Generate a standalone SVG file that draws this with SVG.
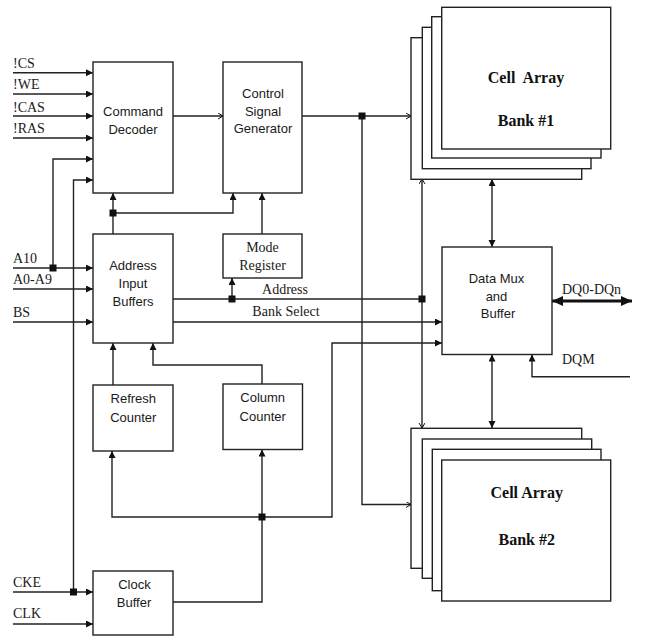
<svg xmlns="http://www.w3.org/2000/svg" width="658" height="642" viewBox="0 0 658 642">
<style>
.box{fill:#fff;stroke:#222;stroke-width:1.4}
.ln{fill:none;stroke:#222;stroke-width:1.4}
.bt{font-family:"Liberation Sans",Arial,sans-serif;font-size:13px;fill:#1a1a1a;text-anchor:middle}
.st{font-family:"Liberation Serif","Times New Roman",serif;font-size:14px;fill:#1a1a1a}
.ct{font-family:"Liberation Serif","Times New Roman",serif;font-size:16px;font-weight:bold;fill:#111;text-anchor:middle}
.jn{fill:#111}
</style>
<defs>
<marker id="fa" markerUnits="userSpaceOnUse" markerWidth="8" markerHeight="8" refX="7" refY="3.5" orient="auto-start-reverse"><path d="M0,0 L7,3.5 L0,7 z" fill="#111"/></marker>
<marker id="oa" markerUnits="userSpaceOnUse" markerWidth="8" markerHeight="8" refX="5" refY="3" orient="auto-start-reverse"><path d="M0,0 L5,3 L0,6" fill="none" stroke="#111" stroke-width="1"/></marker>
<marker id="ba" markerUnits="userSpaceOnUse" markerWidth="12" markerHeight="12" refX="11" refY="5" orient="auto-start-reverse"><path d="M0,0 L11,5 L0,10 z" fill="#111"/></marker>
</defs>

<g id="connectors">
<path class="ln" d="M13,72.7 H93" marker-end="url(#fa)"/>
<path class="ln" d="M13,94 H93" marker-end="url(#fa)"/>
<path class="ln" d="M13,116 H93" marker-end="url(#fa)"/>
<path class="ln" d="M13,138 H93" marker-end="url(#fa)"/>
<path class="ln" d="M53,268 V159 H93" marker-end="url(#fa)"/>
<path class="ln" d="M73.5,592 V180 H93" marker-end="url(#fa)"/>
<path class="ln" d="M173,116 H223" marker-end="url(#oa)"/>
<path class="ln" d="M302,116 H411" marker-end="url(#oa)"/>
<path class="ln" d="M362,116 V504.5 H411" marker-end="url(#oa)"/>
<path class="ln" d="M113,234 V193" marker-end="url(#fa)"/>
<path class="ln" d="M113,213 H233 V193" marker-end="url(#fa)"/>
<path class="ln" d="M262,234 V193" marker-end="url(#fa)"/>
<path class="ln" d="M13,268 H93" marker-end="url(#fa)"/>
<path class="ln" d="M13,289 H93" marker-end="url(#fa)"/>
<path class="ln" d="M13,322 H93" marker-end="url(#fa)"/>
<path class="ln" d="M173,299 H422"/>
<path class="ln" d="M232,299 V278" marker-end="url(#fa)"/>
<path class="ln" d="M422,299 V179" marker-end="url(#oa)"/>
<path class="ln" d="M422,299 V428" marker-end="url(#oa)"/>
<path class="ln" d="M173,322 H442" marker-end="url(#fa)"/>
<path class="ln" d="M173,602 H262 V517"/>
<path class="ln" d="M262,517 V449.5" marker-end="url(#fa)"/>
<path class="ln" d="M262,517 H112 V451" marker-end="url(#fa)"/>
<path class="ln" d="M262,517 H332 V343 H442" marker-end="url(#fa)"/>
<path class="ln" d="M113,385 V343" marker-end="url(#fa)"/>
<path class="ln" d="M262,384 V365 H153 V343" marker-end="url(#fa)"/>
<path class="ln" d="M492,179 V247" marker-start="url(#fa)" marker-end="url(#fa)"/>
<path class="ln" d="M492,354.5 V428" marker-start="url(#fa)" marker-end="url(#fa)"/>
<path class="ln" d="M630,376.7 H532 V354.5" marker-end="url(#fa)"/>
<path fill="none" stroke="#111" stroke-width="3" d="M552,301 H632" marker-start="url(#ba)" marker-end="url(#ba)"/>
<path class="ln" d="M13,592 H93" marker-end="url(#fa)"/>
<path class="ln" d="M13,624 H93" marker-end="url(#fa)"/>
<rect class="jn" x="49.5" y="264.5" width="7" height="7"/>
<rect class="jn" x="109.5" y="209.5" width="7" height="7"/>
<rect class="jn" x="358.5" y="112.5" width="7" height="7"/>
<rect class="jn" x="228.5" y="295.5" width="7" height="7"/>
<rect class="jn" x="418.5" y="295.5" width="7" height="7"/>
<rect class="jn" x="258.5" y="513.5" width="7" height="7"/>
<rect class="jn" x="70" y="588.5" width="7" height="7"/>
</g>

<g id="signal-labels">
<text class="st" x="13" y="68.3">!CS</text>
<text class="st" x="13" y="89.3">!WE</text>
<text class="st" x="13" y="111.7">!CAS</text>
<text class="st" x="13" y="133.3">!RAS</text>
<text class="st" x="13" y="262.7">A10</text>
<text class="st" x="13" y="284">A0-A9</text>
<text class="st" x="13" y="316.7">BS</text>
<text class="st" x="13" y="586.7">CKE</text>
<text class="st" x="13" y="618.3">CLK</text>
<text class="st" x="285" y="294" font-size="13" text-anchor="middle">Address</text>
<text class="st" x="286" y="316" font-size="13.5" text-anchor="middle">Bank Select</text>
<text class="st" x="562" y="294">DQ0-DQn</text>
<text class="st" x="562" y="364.3">DQM</text>
</g>

<g id="command-decoder">
<rect class="box" x="93" y="62" width="80" height="131"/>
<text class="bt" x="133" y="116">Command</text>
<text class="bt" x="133" y="134">Decoder</text>
</g>

<g id="control-signal-generator">
<rect class="box" x="223" y="62" width="79" height="131"/>
<text class="bt" x="263" y="97.7">Control</text>
<text class="bt" x="263" y="115.5">Signal</text>
<text class="bt" x="263" y="133">Generator</text>
</g>

<g id="mode-register">
<rect class="box" x="223" y="234" width="79" height="44"/>
<text class="st" x="262.5" y="252" text-anchor="middle">Mode</text>
<text class="st" x="262.5" y="270" text-anchor="middle">Register</text>
</g>

<g id="address-input-buffers">
<rect class="box" x="93" y="234" width="80" height="109"/>
<text class="bt" x="133" y="270">Address</text>
<text class="bt" x="133" y="288">Input</text>
<text class="bt" x="133" y="306">Buffers</text>
</g>

<g id="refresh-counter">
<rect class="box" x="93" y="385" width="80" height="66"/>
<text class="bt" x="133.3" y="403">Refresh</text>
<text class="bt" x="133.3" y="421.7">Counter</text>
</g>

<g id="column-counter">
<rect class="box" x="223" y="384" width="79.5" height="65.5"/>
<text class="bt" x="262.7" y="402.3">Column</text>
<text class="bt" x="262.7" y="420.5">Counter</text>
</g>

<g id="clock-buffer">
<rect class="box" x="93" y="571" width="80" height="64"/>
<text class="bt" x="134.5" y="589">Clock</text>
<text class="bt" x="134" y="607">Buffer</text>
</g>

<g id="data-mux">
<rect class="box" x="442" y="247" width="110" height="107.5"/>
<text class="bt" x="496.5" y="283">Data Mux</text>
<text class="bt" x="496.5" y="300.5">and</text>
<text class="bt" x="498" y="318">Buffer</text>
</g>

<g id="cell-array-bank1">
<rect class="box" x="411" y="37.7" width="170.7" height="141.6"/>
<rect class="box" x="422.3" y="27.3" width="168.7" height="141.4"/>
<rect class="box" x="431.7" y="16.7" width="169.3" height="141.3"/>
<rect class="box" x="441.7" y="7.3" width="169" height="141.7"/>
<text class="ct" x="526" y="83" xml:space="preserve">Cell  Array</text>
<text class="ct" x="526" y="126">Bank #1</text>
</g>

<g id="cell-array-bank2">
<rect class="box" x="411" y="428.3" width="170.7" height="140"/>
<rect class="box" x="422.3" y="439" width="169.4" height="139.3"/>
<rect class="box" x="432.3" y="449.3" width="168.7" height="141.4"/>
<rect class="box" x="441.7" y="460" width="169" height="141"/>
<text class="ct" x="526.7" y="498">Cell Array</text>
<text class="ct" x="526.7" y="545" font-size="19">Bank #2</text>
</g>
</svg>
